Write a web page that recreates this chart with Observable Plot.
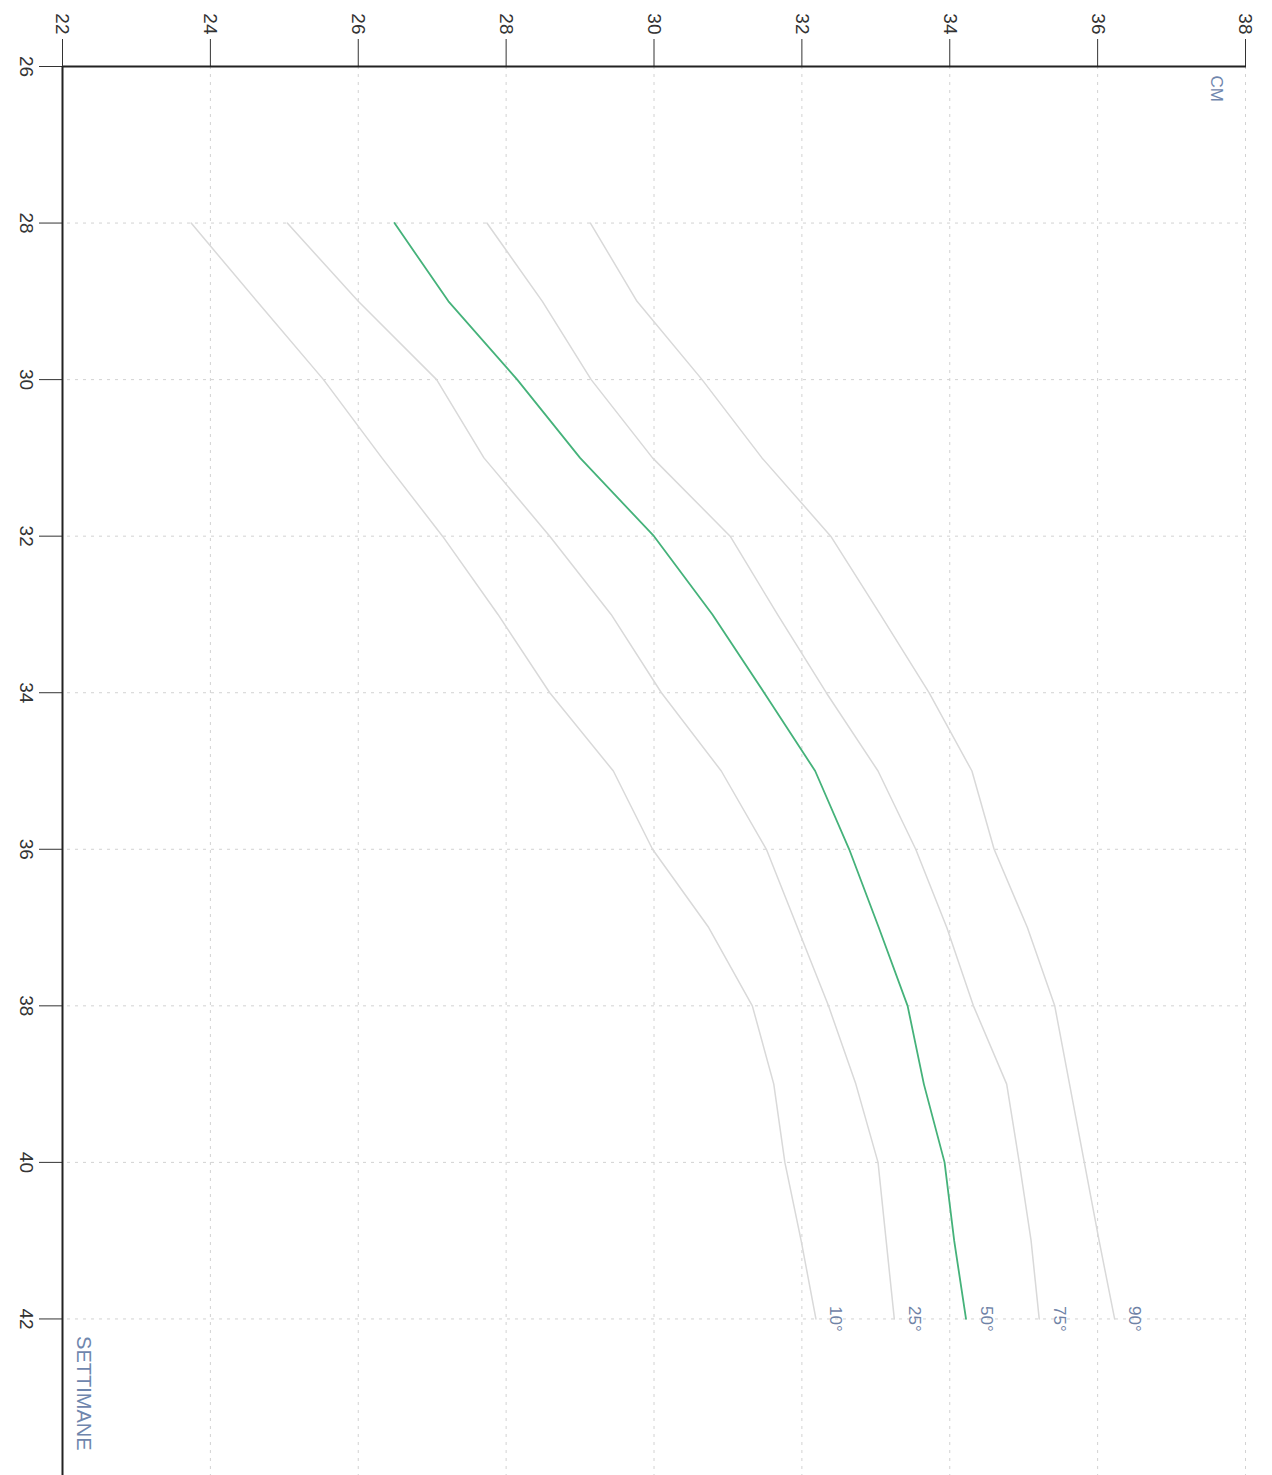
<!DOCTYPE html>
<html><head><meta charset="utf-8">
<script src="https://cdn.jsdelivr.net/npm/d3@7"></script>
<script src="https://cdn.jsdelivr.net/npm/@observablehq/plot@0.6"></script>
<style>
html,body{margin:0;padding:0;background:#fff;overflow:hidden}
#wrap{position:relative;width:1272px;height:1475px;overflow:hidden;background:#fff}
#wrap svg{position:absolute;left:0;top:0;max-width:none!important;transform-origin:0 0;transform:translate(1272px,0) rotate(90deg);}
</style>
</head><body><div id="wrap"></div>
<script>
// Gestational weeks (x) and circumference in cm (y) per percentile
const weeks = [28,29,30,31,32,33,34,35,36,37,38,39,40,41,42];
const p10 = [23.74,24.63,25.53,26.32,27.14,27.89,28.59,29.45,29.98,30.74,31.33,31.62,31.77,31.99,32.19];
const p25 = [25.04,26.00,27.06,27.70,28.59,29.42,30.10,30.91,31.52,31.94,32.36,32.73,33.03,33.14,33.25];
const p50 = [26.49,27.22,28.15,29.00,30.00,30.79,31.49,32.18,32.64,33.04,33.43,33.65,33.93,34.06,34.22];
const p75 = [27.74,28.49,29.15,29.98,31.03,31.67,32.33,33.03,33.54,33.96,34.32,34.77,34.94,35.10,35.21];
const p90 = [29.14,29.77,30.65,31.46,32.39,33.06,33.72,34.30,34.60,35.05,35.42,35.62,35.82,36.02,36.23];
const percentileNames = ["10°","25°","50°","75°","90°"];
const weekTicks = [26,28,30,32,34,36,38,40,42];
const cmTicks = [22,24,26,28,30,32,34,36,38];
const xTitle = "SETTIMANE";
const yTitle = "CM";

const series = [p10,p25,p50,p75,p90];
const rows = [];
series.forEach((s,i)=>s.forEach((v,j)=>rows.push({p:percentileNames[i], w:weeks[j], v})));
const ends = series.map((s,i)=>({p:percentileNames[i], w:weeks[weeks.length-1], v:s[s.length-1]}));

const chart = Plot.plot({
  width: 1475, height: 1272,
  marginLeft: 66, marginRight: 0, marginTop: 26, marginBottom: 63,
  style: {fontFamily: "'Liberation Sans', Arial, sans-serif", color: "#333", background: "#fff"},
  x: {domain: [26, 44]},
  y: {domain: [22, 38]},
  marks: [
    Plot.gridX(weekTicks.slice(1), {stroke: "#d2d2d2", strokeOpacity: 1, strokeDasharray: "3,5"}),
    Plot.gridY(cmTicks.slice(1), {stroke: "#d2d2d2", strokeOpacity: 1, strokeDasharray: "3,5"}),
    Plot.line(rows.filter(d=>d.p!=="50°"), {x:"w", y:"v", z:"p", stroke:"#d9d9d9", strokeWidth:1.5}),
    Plot.line(rows.filter(d=>d.p==="50°"), {x:"w", y:"v", stroke:"#45b27a", strokeWidth:1.8}),
    Plot.text(ends, {x:"w", y:"v", text:"p", dy:-20, textAnchor:"middle", fill:"#6f82a6", fontSize:17}),
    Plot.axisX({ticks: weekTicks, tickSize: 24, tickPadding: 5, fontSize: 19, label: null, tickFormat: d=>String(d), stroke:"#333"}),
    Plot.axisY({ticks: cmTicks, tickSize: 27, tickPadding: 5, fontSize: 19, label: null, tickFormat: d=>String(d), stroke:"#333"}),
    Plot.ruleX([26], {stroke:"#222", strokeWidth:2}),
    Plot.ruleY([22], {stroke:"#222", strokeWidth:2}),
    Plot.text([yTitle], {frameAnchor:"top-left", dx:9, dy:22, textAnchor:"start", fill:"#6f86ad", fontSize:17}),
    Plot.text([xTitle], {frameAnchor:"bottom-right", dx:-25, dy:-14, textAnchor:"end", fill:"#6f86ad", fontSize:20})
  ]
});
chart.style.maxWidth = "none";
document.getElementById("wrap").appendChild(chart);
</script>
</body></html>
